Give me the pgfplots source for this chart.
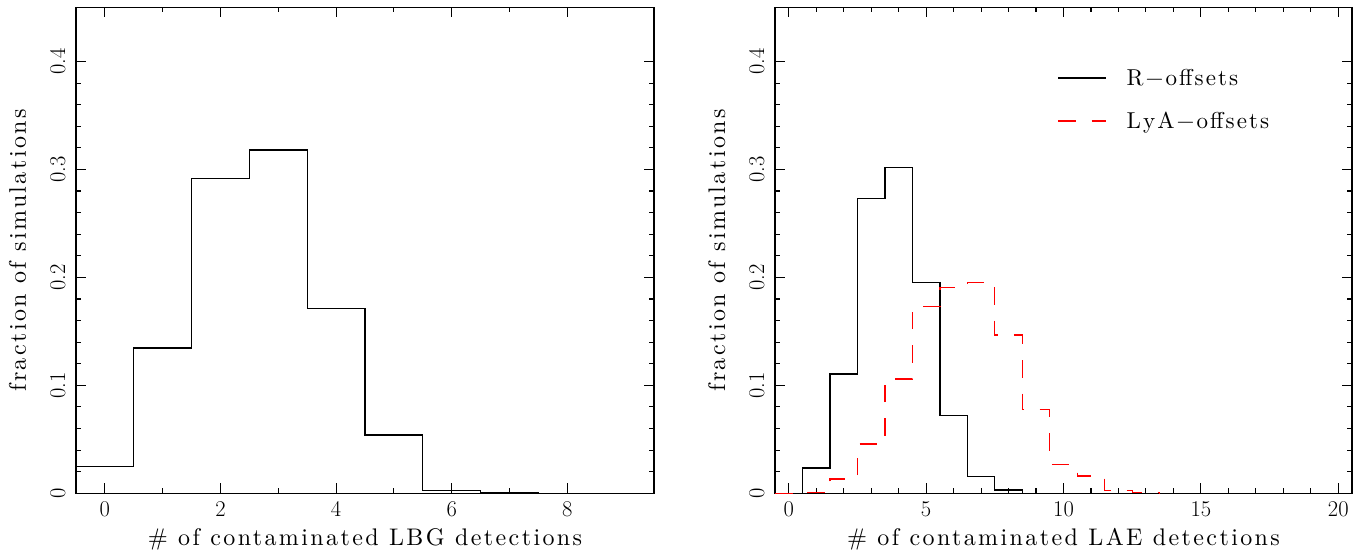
\documentclass[border=0pt]{standalone}
\usepackage{fontspec}
\usepackage{pgfplots}
\pgfplotsset{compat=1.18}
\newfontfamily\pgspaced{lmroman10-regular.otf}[LetterSpace=10]
\newfontfamily\pglegend{lmroman10-regular.otf}[LetterSpace=9]
\newcommand\pg{\fontsize{24bp}{28bp}\pgspaced}
\newcommand\pgl{\fontsize{23bp}{27bp}\pglegend}
\newcommand\pgt{\fontsize{22.5bp}{26bp}\selectfont}

\pgfplotstableread{
x y
-0.5 0.0247
0.5 0.1347
1.5 0.2919
2.5 0.3180
3.5 0.1714
4.5 0.0539
5.5 0.0023
6.5 0.0006
7.5 0
}\lbg
\pgfplotstableread{
x y
-0.5 0
0.5 0.0233
1.5 0.1106
2.5 0.2730
3.5 0.3020
4.5 0.1954
5.5 0.0718
6.5 0.0154
7.5 0.0030
8.5 0
}\laeR
\pgfplotstableread{
x y
-0.5 0
0.5 0.0010
1.5 0.0132
2.5 0.0457
3.5 0.1058
4.5 0.1728
5.5 0.1904
6.5 0.1954
7.5 0.1466
8.5 0.0774
9.5 0.0267
10.5 0.0160
11.5 0.0027
12.5 0.0005
13.5 0
}\laeL

\pgfplotsset{
  pgstyle/.style={
    scale only axis,
    height=485.8bp,
    ymin=0, ymax=0.45,
    axis line style={line width=1.3bp},
    tick style={line width=1.1bp, black},
    tick align=inside,
    tick pos=both,
    major tick length=10bp,
    minor tick length=5bp,
    ytick={0,0.1,0.2,0.3,0.4},
    minor y tick num=4,
    tick label style={font=\pgt},
    /pgf/number format/assume math mode=true,
    xticklabel style={yshift=-5bp},
    yticklabel style={xshift=-7bp, rotate=90, anchor=south},
    label style={font=\pg},
    ylabel={fraction of simulations},
    ylabel style={at={(axis description cs:0,0.5)}, anchor=base, rotate=0, yshift=50bp},
    xlabel style={at={(axis description cs:0.5,0)}, anchor=base, yshift=-51.7bp},
    clip=false,
  }
}

\begin{document}
\begin{tikzpicture}
\useasboundingbox (0,0) rectangle (1364bp,552bp);
\begin{axis}[pgstyle,
  at={(76bp,58.7bp)}, anchor=south west,
  width=578bp,
  xmin=-0.5, xmax=9.5,
  xtick={0,2,4,6,8},
  minor x tick num=1,
  xlabel={\# of contaminated LBG detections},
]
\addplot[const plot, black, line width=1.3bp] table[x=x,y=y] {\lbg};
\end{axis}

\begin{axis}[pgstyle,
  at={(775bp,58.7bp)}, anchor=south west,
  width=577bp,
  xmin=-0.5, xmax=20.5,
  xtick={0,5,10,15,20},
  minor x tick num=4,
  xlabel={\# of contaminated LAE detections},
  legend style={at={(axis description cs:0.489,0.8106)}, anchor=west, draw=none, fill=none,
    inner sep=0pt, nodes={inner sep=0pt}, row sep=25bp, column sep=20bp, font=\pgl},
  legend cell align=left,
  legend image code/.code={\draw[#1] (0bp,0bp) -- (48bp,0bp);},
]
\addplot[const plot, black, line width=1.3bp] table[x=x,y=y] {\laeR};
\addlegendentry{R{\fontsize{23bp}{27bp}\selectfont\char"2212}offsets}
\addplot[const plot, red, line width=1.3bp, dash pattern=on 17.5bp off 16bp] table[x=x,y=y] {\laeL};
\addlegendentry{LyA{\fontsize{23bp}{27bp}\selectfont\char"2212}offsets}
\end{axis}
\end{tikzpicture}
\end{document}
